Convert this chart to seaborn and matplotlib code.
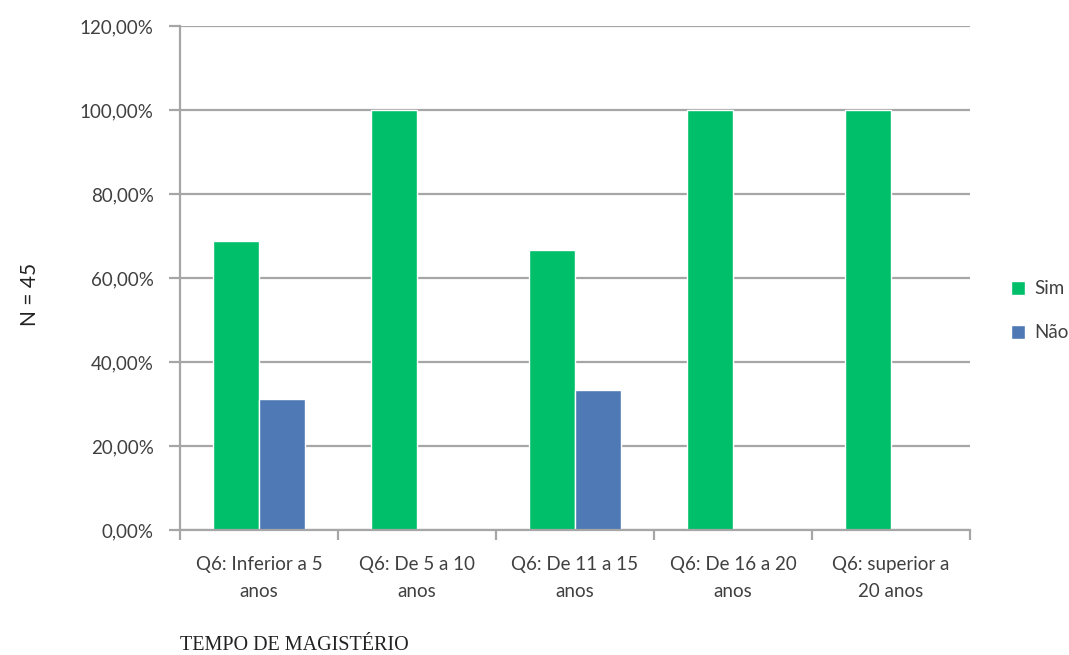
import matplotlib
matplotlib.use("Agg")
import matplotlib.pyplot as plt
import seaborn as sns
import pandas as pd
import numpy as np
from matplotlib.ticker import FuncFormatter, FixedLocator

# data
categories = ["Q6: Inferior a 5\nanos", "Q6: De 5 a 10\nanos", "Q6: De 11 a 15\nanos",
              "Q6: De 16 a 20\nanos", "Q6: superior a\n20 anos"]
sim = [68.89, 100.0, 66.67, 100.0, 100.0]
nao = [31.11, 0.0, 33.33, 0.0, 0.0]
series = ["Sim", "Não"]
colors = ["#00BF6A", "#4E79B4"]
yticks = [0, 20, 40, 60, 80, 100, 120]

df = pd.DataFrame({
    "cat": categories * 2,
    "serie": ["Sim"] * len(categories) + ["Não"] * len(categories),
    "valor": sim + nao,
})

sns.set_style("white")
plt.rcParams["font.family"] = ["Lato", "DejaVu Sans"]

fig = plt.figure(figsize=(10.69, 6.55), dpi=100)
ax = fig.add_axes([0.1684, 0.1908, 0.7390, 0.7695])

sns.barplot(data=df, x="cat", y="valor", hue="serie", hue_order=series,
            palette=colors, width=0.58, saturation=1, ax=ax, legend=True)

ax.set_ylim(0, 120)
ax.set_xlim(-0.5, len(categories) - 0.5)
ax.yaxis.set_major_locator(FixedLocator(yticks))
ax.yaxis.set_major_formatter(FuncFormatter(lambda v, p: f"{v:.2f}%".replace(".", ",")))
ax.grid(axis="y", color="#a6a6a6", linewidth=1.6)
ax.set_axisbelow(True)

for s in ["top", "right"]:
    ax.spines[s].set_visible(False)
for s in ["left", "bottom"]:
    ax.spines[s].set_color("#a6a6a6")
    ax.spines[s].set_linewidth(1.6)

ax.tick_params(axis="y", length=8, width=1.6, color="#a6a6a6", labelsize=13.5,
               labelcolor="#404040", pad=11, left=True)
ax.tick_params(axis="x", which="major", length=0, labelsize=13.5, labelcolor="#404040", pad=19)
for lbl in ax.get_xticklabels():
    lbl.set_linespacing(1.65)
ax.xaxis.set_minor_locator(FixedLocator(np.arange(-0.5, len(categories), 1.0)))
ax.tick_params(axis="x", which="minor", length=7, width=1.6, color="#a6a6a6", bottom=True)

ax.set_xlabel("")
ax.set_ylabel("")
fig.text(0.028, 0.55, "N = 45", rotation=90, fontsize=15, color="#222222", ha="center", va="center")
fig.text(0.168, 0.0, "TEMPO DE MAGISTÉRIO", family="Liberation Serif", fontsize=14.5,
         color="#222222", ha="left", va="bottom")

ax.legend(loc="center left", bbox_to_anchor=(1.03, 0.435), frameon=False, fontsize=13.5,
          handlelength=0.75, handleheight=0.75, handletextpad=0.5, labelspacing=1.45,
          labelcolor="#404040")

fig.savefig("out.png", dpi=100)
